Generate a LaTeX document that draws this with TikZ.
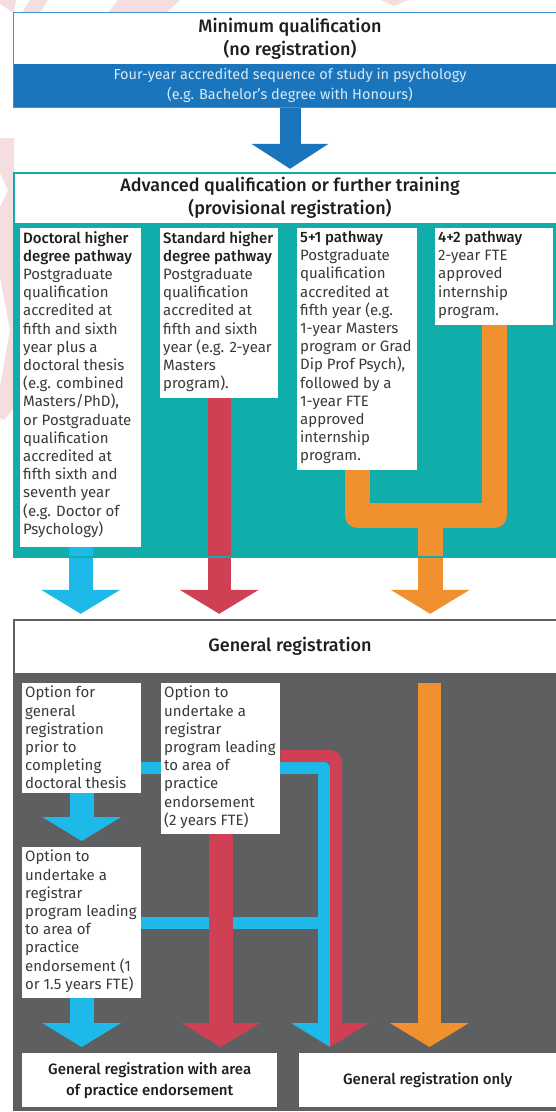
\documentclass[tikz,border=0pt]{standalone}
\usepackage{fontspec}
\setmainfont{Fira Sans}[BoldFont={Fira Sans Medium}]
\usetikzlibrary{arrows.meta,calc}

\definecolor{bandblue}{RGB}{27,117,188}
\definecolor{edgeblue}{RGB}{60,143,211}
\definecolor{tealc}{RGB}{17,173,171}
\definecolor{cyanc}{RGB}{28,185,233}
\definecolor{redc}{RGB}{207,64,85}
\definecolor{orangec}{RGB}{240,144,47}
\definecolor{greyc}{RGB}{94,95,97}
\definecolor{inkc}{RGB}{30,30,30}
\definecolor{bodyc}{RGB}{58,58,58}
\definecolor{pinkc}{RGB}{244,222,223}
\definecolor{bandtext}{RGB}{214,234,247}

\pgfdeclarelayer{bg}
\pgfdeclarelayer{links}
\pgfsetlayers{bg,links,main}

% text block of fixed size, set from the top
\newcommand{\boxbody}[3]{\makebox[#2][l]{\begin{minipage}[t][#1]{\dimexpr#2+20pt\relax}\raggedright #3\end{minipage}}}
\newcommand{\hd}[1]{{\bfseries\color{inkc}#1}}

\tikzset{
  stagehead/.style={fill=white, minimum width=552pt, inner sep=0pt, align=center,
    font=\fontsize{18}{23}\selectfont\bfseries, text=inkc},
  stagebody/.style={minimum width=552pt, inner sep=0pt},
  optbox/.style={fill=white, anchor=north west, inner sep=3pt,
    font=\fontsize{15}{18.2}\selectfont, text=bodyc},
  endbox/.style={fill=white, anchor=north west, inner sep=0pt, align=center,
    font=\fontsize{15}{21}\selectfont\bfseries, text=inkc},
  fat/.style={line width=24pt, -{Triangle[width=78pt,length=24pt]}},
}

\begin{document}
\begin{tikzpicture}[x=1pt,y=-1pt]
\useasboundingbox (0,0) rectangle (556,1112);

\begin{pgfonlayer}{bg}
  \fill[white] (0,0) rectangle (556,1112);
  % faint watermark
  \fill[pinkc] (0,0) -- (16,0) -- (14,13) -- (0,4) -- cycle;
  \fill[pinkc] (30,0) -- (48,0) -- (40,13) -- (22,13) -- cycle;
  \fill[pinkc] (118,0) -- (180,0) -- (166,13) -- (108,13) -- cycle;
  \fill[pinkc] (381,0) -- (408,0) -- (394,6) -- cycle;
  \fill[pinkc] (0,138) -- (14,138) -- (14,408) -- (4,420) -- (0,418) -- (0,387)
    -- (10,330) -- (0,277) -- (0,207) -- (8,190) -- (0,173) -- cycle;
  % stage bodies
  \node[stagebody, fill=tealc, minimum height=334pt] (advbody) at (290,390) {};
  \node[stagebody, fill=greyc, minimum height=437pt] (genbody) at (290,891.5) {};
\end{pgfonlayer}

% stage 1
\node[stagehead, minimum height=51.3pt] (minq) at (290,38.35) {Minimum qualification\\(no registration)};
\node[stagebody, fill=bandblue, minimum height=43pt, align=center, text=bandtext,
  font=\fontsize{14.5}{20}\selectfont] (four) at (290,85.5)
  {Four-year accredited sequence of study in psychology\\(e.g. Bachelor's degree with Honours)};
\draw[edgeblue, line width=1pt] (minq.north west) rectangle (four.south east);

% stage 2
\node[stagehead, minimum height=50pt] (adv) at (290,198) {Advanced qualification or further training\\(provisional registration)};
\draw[tealc, line width=1.5pt] (adv.north west) rectangle (advbody.south east);

\node[optbox] (doc) at (20,228) {\boxbody{313pt}{115pt}{\hd{Doctoral higher\\degree pathway}\\
  Postgraduate\\qualification\\accredited at\\fifth and sixth\\year plus a\\doctoral thesis\\
  (e.g. combined\\Masters/PhD),\\or Postgraduate\\qualification\\accredited at\\fifth sixth and\\
  seventh year\\(e.g. Doctor of\\Psychology)}};
\node[optbox] (std) at (160,228) {\boxbody{164pt}{112pt}{\hd{Standard higher\\degree pathway}\\
  Postgraduate\\qualification\\accredited at\\fifth and sixth\\year (e.g. 2-year\\Masters\\program).}};
\node[optbox] (five) at (297,228) {\boxbody{236pt}{114pt}{\hd{5+1 pathway}\\
  Postgraduate\\qualification\\accredited at\\fifth year (e.g.\\1-year Masters\\program or Grad\\
  Dip Prof Psych),\\followed by a\\1-year FTE\\approved\\internship\\program.}};
\node[optbox] (fourtwo) at (435,228) {\boxbody{91pt}{112pt}{\hd{4+2 pathway}\\
  2-year FTE\\approved\\internship\\program.}};

% stage 3
\node[stagehead, minimum height=53pt] (genreg) at (290,646.5) {General registration};
\draw[greyc, line width=1.5pt] (genreg.north west) rectangle (genbody.south east);

\node[optbox] (optgen) at (22,683) {\boxbody{104pt}{113pt}{Option for\\general\\registration\\
  prior to\\completing\\doctoral thesis}};
\node[optbox] (optreg2) at (161,683) {\boxbody{145pt}{113pt}{Option to\\undertake a\\registrar\\
  program leading\\to area of\\practice\\endorsement\\(2 years FTE)}};
\node[optbox] (optreg1) at (22,847) {\boxbody{145pt}{113pt}{Option to\\undertake a\\registrar\\
  program leading\\to area of\\practice\\endorsement (1\\or 1.5 years FTE)}};

\node[endbox, minimum width=255pt, minimum height=54pt] (gra) at (22,1053)
  {General registration with area\\of practice endorsement};
\node[endbox, minimum width=257pt, minimum height=54pt] (gro) at (299,1053)
  {General registration only};

\coordinate (ujoin) at ($(five.south)+(73,45)$);
\coordinate (orgtop) at (429.5,683);
\coordinate (cydrop) at (324,1023);
\coordinate (rddrop) at (336,1023);
\coordinate (split) at (330,1023);

\begin{pgfonlayer}{links}
  \draw[fat, bandblue, line width=21pt, -{Triangle[width=76pt,length=25pt]}, shorten >=4pt]
    (four.south) -- (adv.north);
  \draw[fat, cyanc, shorten >=6pt] (doc.south) -- (doc.south |- genreg.north);
  \draw[fat, redc, line width=23pt, shorten >=6pt] (std.south) -- (std.south |- genreg.north);
  \draw[orangec, line width=25pt, line join=round] (five.south) -- ++(0,45) -| (fourtwo.south);
  \draw[fat, orangec, line width=25pt, shorten >=6pt] (ujoin) -- (ujoin |- genreg.north);

  % registrar routes
  \draw[cyanc, line width=12pt, line join=round] ([yshift=-29.5pt]optgen.east) -| (cydrop);
  \draw[cyanc, line width=12pt] (optreg1.east) -- (optreg1.east -| cydrop);
  \fill[cyanc] (split) -- ++(-39,0) -- ++(39,24) -- cycle;
  \draw[fat, cyanc, shorten >=6pt] (optgen.south) -- (optreg1.north);
  \draw[fat, cyanc, shorten >=6pt] (optreg1.south) -- (optreg1.south |- gra.north);
  \draw[redc, line width=12pt, rounded corners=6pt] ([yshift=2.5pt]optreg2.east) -| (rddrop);
  \fill[redc] (split) -- ++(39,0) -- ++(-39,24) -- cycle;
  \draw[fat, redc, shorten >=6pt] (optreg2.south) -- (optreg2.south |- gra.north);
  \draw[fat, orangec, line width=23pt, shorten >=6pt] (orgtop) -- (orgtop |- gro.north);
\end{pgfonlayer}
\end{tikzpicture}
\end{document}
